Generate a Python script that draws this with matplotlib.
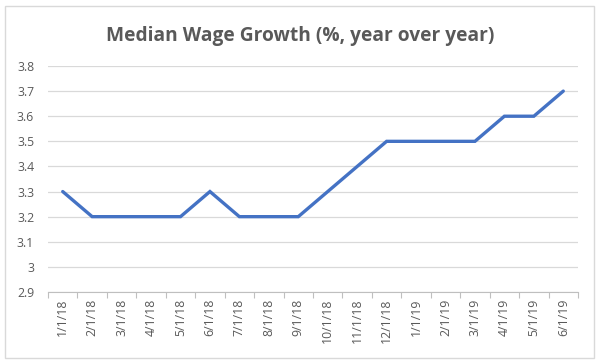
import matplotlib
matplotlib.use("Agg")
import matplotlib.pyplot as plt
from matplotlib.patches import FancyBboxPatch
import numpy as np

dates = ["1/1/18", "2/1/18", "3/1/18", "4/1/18", "5/1/18", "6/1/18", "7/1/18", "8/1/18", "9/1/18",
         "10/1/18", "11/1/18", "12/1/18", "1/1/19", "2/1/19", "3/1/19", "4/1/19", "5/1/19", "6/1/19"]
growth = [3.3, 3.2, 3.2, 3.2, 3.2, 3.3, 3.2, 3.2, 3.2, 3.3, 3.4, 3.5, 3.5, 3.5, 3.5, 3.6, 3.6, 3.7]
yticks = [2.9, 3.0, 3.1, 3.2, 3.3, 3.4, 3.5, 3.6, 3.7, 3.8]
ylabels = ["2.9", "3", "3.1", "3.2", "3.3", "3.4", "3.5", "3.6", "3.7", "3.8"]

plt.rcParams['font.family'] = ['Open Sans', 'DejaVu Sans']
txt = "#595959"

fig = plt.figure(figsize=(6, 3.63), dpi=100)
border = FancyBboxPatch((5/600, 5/363), 589/600, 352/363, boxstyle="square,pad=0",
                        transform=fig.transFigure, fill=False, edgecolor="#d9d9d9", linewidth=1)
fig.patches.append(border)

ax = fig.add_axes([48/600, (363-292)/363, 530/600, 226/363])
x = np.arange(len(dates))
ax.plot(x, growth, color="#4472C4", linewidth=2.4, solid_capstyle="round", solid_joinstyle="miter", zorder=3)

ax.set_xlim(-0.5, len(dates) - 0.5)
ax.set_ylim(2.9, 3.8)
ax.set_yticks(yticks)
ax.set_yticklabels(ylabels, color=txt, fontsize=8.8)
ax.set_xticks(x)
ax.set_xticklabels(dates, rotation=90, color=txt, fontsize=8.8)
ax.set_xticks(np.arange(-0.5, len(dates)), minor=True)
ax.tick_params(axis='x', which='major', length=0, pad=5)
ax.tick_params(axis='x', which='minor', length=4, color="#bfbfbf", width=0.8)
ax.tick_params(axis='y', length=0, pad=10)
ax.grid(axis='y', color="#d9d9d9", linewidth=0.9)
ax.set_axisbelow(True)
for s in ['top', 'right', 'left']:
    ax.spines[s].set_visible(False)
ax.spines['bottom'].set_color("#bfbfbf")
ax.spines['bottom'].set_linewidth(0.8)

fig.text(0.5, 1 - 36/363, "Median Wage Growth (%, year over year)", ha="center", va="center",
         fontsize=13.8, fontweight="bold", color=txt)

fig.savefig("out.png", dpi=100)
